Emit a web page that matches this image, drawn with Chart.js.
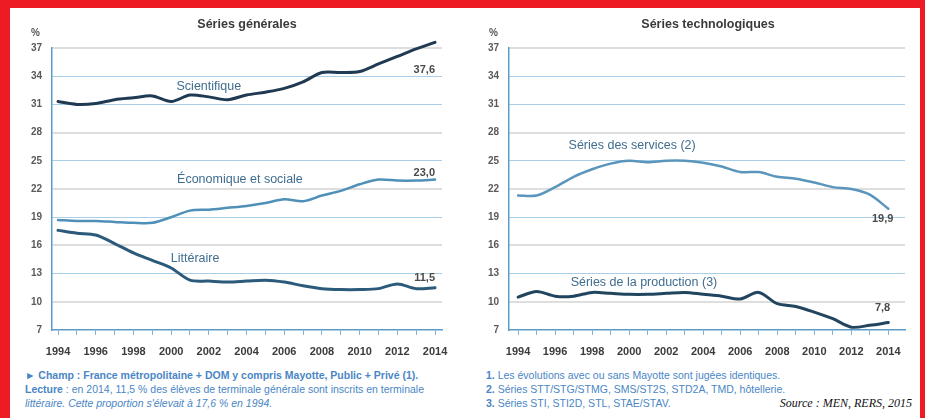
<!DOCTYPE html>
<html lang="fr">
<head>
<meta charset="utf-8">
<script src="https://cdn.jsdelivr.net/npm/chart.js@4.4.0/dist/chart.umd.min.js"></script>
<style>
  html, body { margin: 0; padding: 0; background: #fff; }
  body { width: 925px; height: 418px; position: relative; overflow: hidden; font-family: "Liberation Sans", Arial, sans-serif; }
  #cadre { position: absolute; left: 0; top: 0; width: 910px; height: 410px; border-top: 8px solid #ed1c24; border-left: 10px solid #ed1c24; border-right: 5px solid #ed1c24; }
  canvas { position: absolute; top: 8px; }
  #graph-generales { left: 10px; }
  #graph-techno { left: 460px; }
  .titre { position: absolute; top: 17px; font-size: 12.5px; font-weight: bold; color: #3a3a3a; transform: translateX(-50%); white-space: nowrap; }
  .pourcent { position: absolute; top: 27px; font-size: 10px; font-weight: bold; color: #555; }
  .notes { position: absolute; top: 368px; font-size: 10.5px; line-height: 14px; color: #4a86c5; white-space: nowrap; }
  .source { position: absolute; right: 13px; top: 396px; font-family: "Liberation Serif", "Times New Roman", serif; font-style: italic; font-size: 12px; color: #111; }
</style>
</head>
<body>
<div id="cadre"></div>
<canvas id="graph-generales" width="450" height="360"></canvas>
<canvas id="graph-techno" width="455" height="360"></canvas>

<div class="titre" style="left:247px">Séries générales</div>
<div class="titre" style="left:708px">Séries technologiques</div>
<div class="pourcent" style="left:31px">%</div>
<div class="pourcent" style="left:489px">%</div>

<div class="notes" style="left:25px">
  <b>► Champ : France métropolitaine + DOM y compris Mayotte, Public + Privé (1).</b><br>
  <b>Lecture</b> : en 2014, 11,5 % des élèves de terminale générale sont inscrits en terminale<br>
  <i>littéraire. Cette proportion s'élevait à 17,6 % en 1994.</i>
</div>
<div class="notes" style="left:486px">
  <b>1.</b> Les évolutions avec ou sans Mayotte sont jugées identiques.<br>
  <b>2.</b> Séries STT/STG/STMG, SMS/ST2S, STD2A, TMD, hôtellerie.<br>
  <b>3.</b> Séries STI, STI2D, STL, STAE/STAV.
</div>
<div class="source">Source : MEN, RERS, 2015</div>

<script>
// DONNEES
const annees = [1994, 1995, 1996, 1997, 1998, 1999, 2000, 2001, 2002, 2003, 2004,
                2005, 2006, 2007, 2008, 2009, 2010, 2011, 2012, 2013, 2014]
const scientifique = [31.3, 31.0, 31.1, 31.5, 31.7, 31.9, 31.3, 32.0, 31.8, 31.5, 32.0,
                      32.3, 32.7, 33.4, 34.4, 34.4, 34.5, 35.3, 36.1, 36.9, 37.6]
const economique = [18.7, 18.6, 18.6, 18.5, 18.4, 18.4, 19.0, 19.7, 19.8, 20.0, 20.2,
                    20.5, 20.9, 20.7, 21.3, 21.8, 22.5, 23.0, 22.9, 22.9, 23.0]
const litteraire = [17.6, 17.3, 17.1, 16.2, 15.2, 14.4, 13.6, 12.3, 12.2, 12.1, 12.2,
                    12.3, 12.1, 11.7, 11.4, 11.3, 11.3, 11.4, 11.9, 11.4, 11.5]
const services = [21.3, 21.3, 22.2, 23.3, 24.1, 24.7, 25.0, 24.85, 25.0, 25.0, 24.8,
                  24.4, 23.8, 23.8, 23.3, 23.1, 22.7, 22.2, 22.0, 21.4, 19.9]
const production = [10.5, 11.1, 10.6, 10.6, 11.0, 10.9, 10.8, 10.8, 10.9, 11.0, 10.8,
                    10.6, 10.3, 11.0, 9.8, 9.5, 8.9, 8.2, 7.3, 7.5, 7.8]
const ticksY = [7, 10, 13, 16, 19, 22, 25, 28, 31, 34, 37]

const bleuAxe = '#5b9bc8'

function points(serie) {
    return annees.map((a, i) => ({ x: a, y: serie[i] }))
}

// textes posés dans le graphique (en coordonnées des axes)
function pluginEtiquettes(items) {
    return {
        id: 'etiquettes',
        afterDatasetsDraw(chart) {
            const ctx = chart.ctx
            items.forEach(e => {
                ctx.save()
                ctx.font = e.gras ? 'bold 11px "Liberation Sans", Arial' : '12.5px "Liberation Sans", Arial'
                ctx.fillStyle = e.gras ? '#4a4a4a' : '#3f6d8f'
                ctx.textAlign = e.align || 'center'
                ctx.textBaseline = 'middle'
                ctx.fillText(e.texte, chart.scales.x.getPixelForValue(e.x), chart.scales.y.getPixelForValue(e.y))
                ctx.restore()
            })
        }
    }
}

function creerGraphique(id, datasets, xMin, xMax, padGauche, padDroite, etiquettes) {
    const ctx = document.getElementById(id).getContext('2d')
    datasets.forEach(d => { d.clip = false })
    return new Chart(ctx, {
        type: 'line',
        data: { datasets: datasets },
        options: {
            responsive: false,
            animation: false,
            layout: { padding: { left: padGauche, right: padDroite, top: 40, bottom: 8 } },
            elements: { point: { radius: 0 }, line: { tension: 0.3, borderCapStyle: 'round' } },
            plugins: { legend: { display: false }, tooltip: { enabled: false } },
            scales: {
                x: {
                    type: 'linear',
                    min: xMin,
                    max: xMax,
                    afterFit(s) { s.height = 30 },
                    afterBuildTicks(s) { s.ticks = annees.map(a => ({ value: a })) },
                    ticks: {
                        autoSkip: false,
                        maxRotation: 0,
                        padding: 10,
                        color: '#3c3c3c',
                        font: { size: 11, weight: 'bold', family: '"Liberation Sans", Arial' },
                        callback: v => (v % 2 === 0 ? String(v) : '')
                    },
                    grid: { drawOnChartArea: false, drawTicks: true, tickLength: 5, color: '#7fb2d6', lineWidth: 1 },
                    border: { display: true, color: bleuAxe, width: 1.5 }
                },
                y: {
                    min: 7,
                    max: 37,
                    afterFit(s) { s.width = 30 },
                    afterBuildTicks(s) { s.ticks = ticksY.map(v => ({ value: v })) },
                    ticks: {
                        padding: 10,
                        color: '#5a5a5a',
                        font: { size: 10, weight: 'bold', family: '"Liberation Sans", Arial' }
                    },
                    grid: {
                        drawTicks: false,
                        color: c => {
                            const v = c.tick ? c.tick.value : 0
                            if (v === 7) return 'rgba(0,0,0,0)'
                            return [13, 19, 25, 31, 34].includes(v) ? '#a9cfe8' : '#dedede'
                        },
                        lineWidth: c => {
                            const v = c.tick ? c.tick.value : 0
                            return [13, 19, 25, 31, 34].includes(v) ? 1 : 2
                        }
                    },
                    border: { display: true, color: bleuAxe, width: 1.5 }
                }
            }
        },
        plugins: [pluginEtiquettes(etiquettes)]
    })
}

// SERIES GENERALES
creerGraphique('graph-generales', [
    { data: points(scientifique), borderColor: '#1f3a52', borderWidth: 3 },
    { data: points(economique), borderColor: '#4f90b8', borderWidth: 2.5 },
    { data: points(litteraire), borderColor: '#2b5a7a', borderWidth: 3 }
], 1993.68, 2014.37, 12, 18, [
    { texte: 'Scientifique', x: 2002, y: 32.85 },
    { texte: '37,6', x: 2014, y: 34.66, align: 'right', gras: true },
    { texte: 'Économique et sociale', x: 2003.65, y: 22.96 },
    { texte: '23,0', x: 2014, y: 23.7, align: 'right', gras: true },
    { texte: 'Littéraire', x: 2001.27, y: 14.55 },
    { texte: '11,5', x: 2014, y: 12.53, align: 'right', gras: true }
])

// SERIES TECHNOLOGIQUES
creerGraphique('graph-techno', [
    { data: points(services), borderColor: '#5a95bb', borderWidth: 2.5 },
    { data: points(production), borderColor: '#21455f', borderWidth: 3 }
], 1993.51, 2014.9, 19, 10, [
    { texte: 'Séries des services (2)', x: 2000.16, y: 26.57 },
    { texte: '19,9', x: 2014.27, y: 18.8, align: 'right', gras: true },
    { texte: 'Séries de la production (3)', x: 2000.8, y: 12.0 },
    { texte: '7,8', x: 2014.1, y: 9.34, align: 'right', gras: true }
])
</script>
</body>
</html>
